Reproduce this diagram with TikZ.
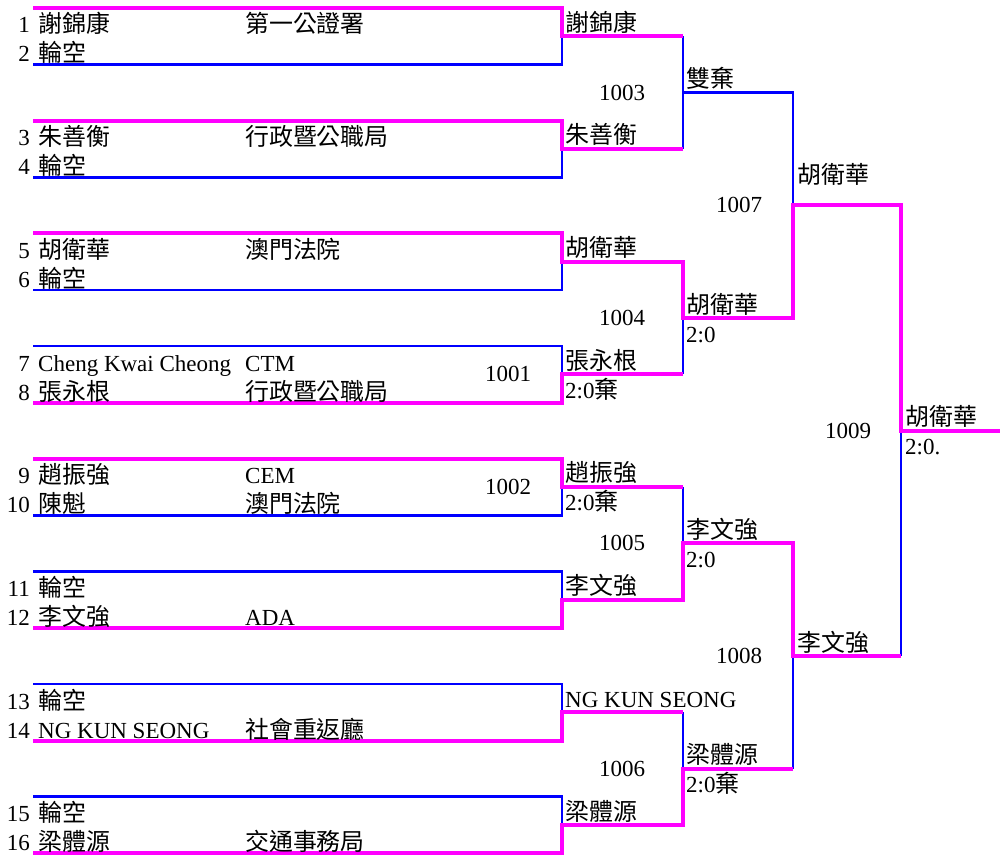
\documentclass[tikz,border=0pt]{standalone}
\usepackage{fontspec}
\setmainfont{Liberation Serif}
\newfontfamily\cjk[Scale=1.04]{Noto Sans CJK TC}
\newcommand\zh[1]{{\cjk #1}}
\definecolor{mag}{RGB}{255,0,255}
\definecolor{blu}{RGB}{0,0,255}
\begin{document}
\begin{tikzpicture}[x=1pt,y=-1pt,
  winline/.style={draw=mag,line width=4pt,line join=miter},
  loseline/.style={draw=blu,line width=2.8pt,line join=miter},
  txt/.style={inner sep=0pt,anchor=base west,font=\fontsize{23}{24}\selectfont},
  numtxt/.style={txt,anchor=base east},
  matchno/.style={inner sep=0pt,anchor=center,font=\fontsize{23}{24}\selectfont}]
\useasboundingbox (0,0) rectangle (1000,856);
% geometry
\foreach \i in {0,...,7}{
  \pgfmathsetmacro\T{8+112.67*\i}
  \pgfmathsetmacro\M{\T+28.3}
  \pgfmathsetmacro\B{\T+56.7}
  \coordinate (a\i) at (33,\T);
  \coordinate (b\i) at (33,\B);
  \coordinate (m\i) at (562,\M);
  \coordinate (n\i) at (683,\M);
}
\foreach \k/\y in {0/92.7,1/318,2/543.3,3/768.7}{
  \coordinate (q\k) at (683,\y);
  \coordinate (r\k) at (793,\y);
}
\coordinate (s0) at (793,205.3);
\coordinate (u0) at (901,205.3);
\coordinate (s1) at (793,656);
\coordinate (u1) at (901,656);
\coordinate (f) at (901,430.7);
\coordinate (e) at (1000,430.7);
% losing lines
\foreach \i in {0,1,2,4}{\draw[loseline] (b\i) -| (m\i);}
\foreach \i in {3,5,6,7}{\draw[loseline] (a\i) -| (m\i);}
\draw[loseline] (n0) -- (n1);
\draw[loseline] (q0) -- (r0) -- (s0);
\draw[loseline] (q1) -- (n3);
\draw[loseline] (n4) -- (q2);
\draw[loseline] (n6) -- (q3);
\draw[loseline] (s1) -- (r3);
\draw[loseline] (f) -- (u1);
% winning lines
\draw[winline] (a0) -| (m0) -- (n0);
\draw[winline] (a1) -| (m1) -- (n1);
\draw[winline] (a2) -| (m2) -- (n2) -- (q1) -- (r1) -- (s0) -- (u0) -- (f) -- (e);
\draw[winline] (b3) -| (m3) -- (n3);
\draw[winline] (a4) -| (m4) -- (n4);
\draw[winline] (b5) -| (m5) -- (n5) -- (q2) -- (r2) -- (s1) -- (u1);
\draw[winline] (b6) -| (m6) -- (n6);
\draw[winline] (b7) -| (m7) -- (n7) -- (q3) -- (r3);
% entrants
\foreach \n/\nm in {1/\zh{謝錦康},2/\zh{輪空},3/\zh{朱善衡},4/\zh{輪空},5/\zh{胡衛華},6/\zh{輪空},7/Cheng Kwai Cheong,8/\zh{張永根},9/\zh{趙振強},10/\zh{陳魁},11/\zh{輪空},12/\zh{李文強},13/\zh{輪空},14/NG KUN SEONG,15/\zh{輪空},16/\zh{梁體源}}{
  \pgfmathsetmacro\yy{8+112.67*floor((\n-1)/2)+25+29*mod(\n-1,2)}
  \node[numtxt] (num\n) at (30,\yy) {\n};
  \node[txt] (name\n) at (38,\yy) {\nm};
}
\foreach \n/\og in {1/\zh{第一公證署},3/\zh{行政暨公職局},5/\zh{澳門法院},7/CTM,8/\zh{行政暨公職局},9/CEM,10/\zh{澳門法院},12/ADA,14/\zh{社會重返廳},16/\zh{交通事務局}}{
  \pgfmathsetmacro\yy{8+112.67*floor((\n-1)/2)+25+29*mod(\n-1,2)}
  \node[txt] (org\n) at (245,\yy) {\og};
}
% round 1 results
\foreach \i/\w in {0/\zh{謝錦康},1/\zh{朱善衡},2/\zh{胡衛華},3/\zh{張永根},4/\zh{趙振強},5/\zh{李文強},6/NG KUN SEONG,7/\zh{梁體源}}{
  \node[txt] (w1\i) at ([shift={(3,-5)}]m\i) {\w};
}
\node[txt] (sc13) at ([shift={(3,24)}]m3) {2:0\zh{棄}};
\node[txt] (sc14) at ([shift={(3,24)}]m4) {2:0\zh{棄}};
\node[matchno] (g1001) at (508,374.3) {1001};
\node[matchno] (g1002) at (508,487) {1002};
% round 2
\foreach \k/\w in {0/\zh{雙棄},1/\zh{胡衛華},2/\zh{李文強},3/\zh{梁體源}}{
  \node[txt] (w2\k) at ([shift={(3,-5)}]q\k) {\w};
}
\node[txt] (sc21) at ([shift={(3,24)}]q1) {2:0};
\node[txt] (sc22) at ([shift={(3,24)}]q2) {2:0};
\node[txt] (sc23) at ([shift={(3,24)}]q3) {2:0\zh{棄}};
\node[matchno] (g1003) at (622,92.7) {1003};
\node[matchno] (g1004) at (622,318) {1004};
\node[matchno] (g1005) at (622,543.3) {1005};
\node[matchno] (g1006) at (622,768.7) {1006};
% round 3
\node[txt] (w30) at ([shift={(4,-22)}]s0) {\zh{胡衛華}};
\node[txt] (w31) at ([shift={(4,-5)}]s1) {\zh{李文強}};
\node[matchno] (g1007) at (739,205.3) {1007};
\node[matchno] (g1008) at (739,656) {1008};
% final
\node[txt] (w4) at ([shift={(4,-5)}]f) {\zh{胡衛華}};
\node[txt] (sc4) at ([shift={(4,24)}]f) {2:0.};
\node[matchno] (g1009) at (848,430.7) {1009};
\end{tikzpicture}
\end{document}
